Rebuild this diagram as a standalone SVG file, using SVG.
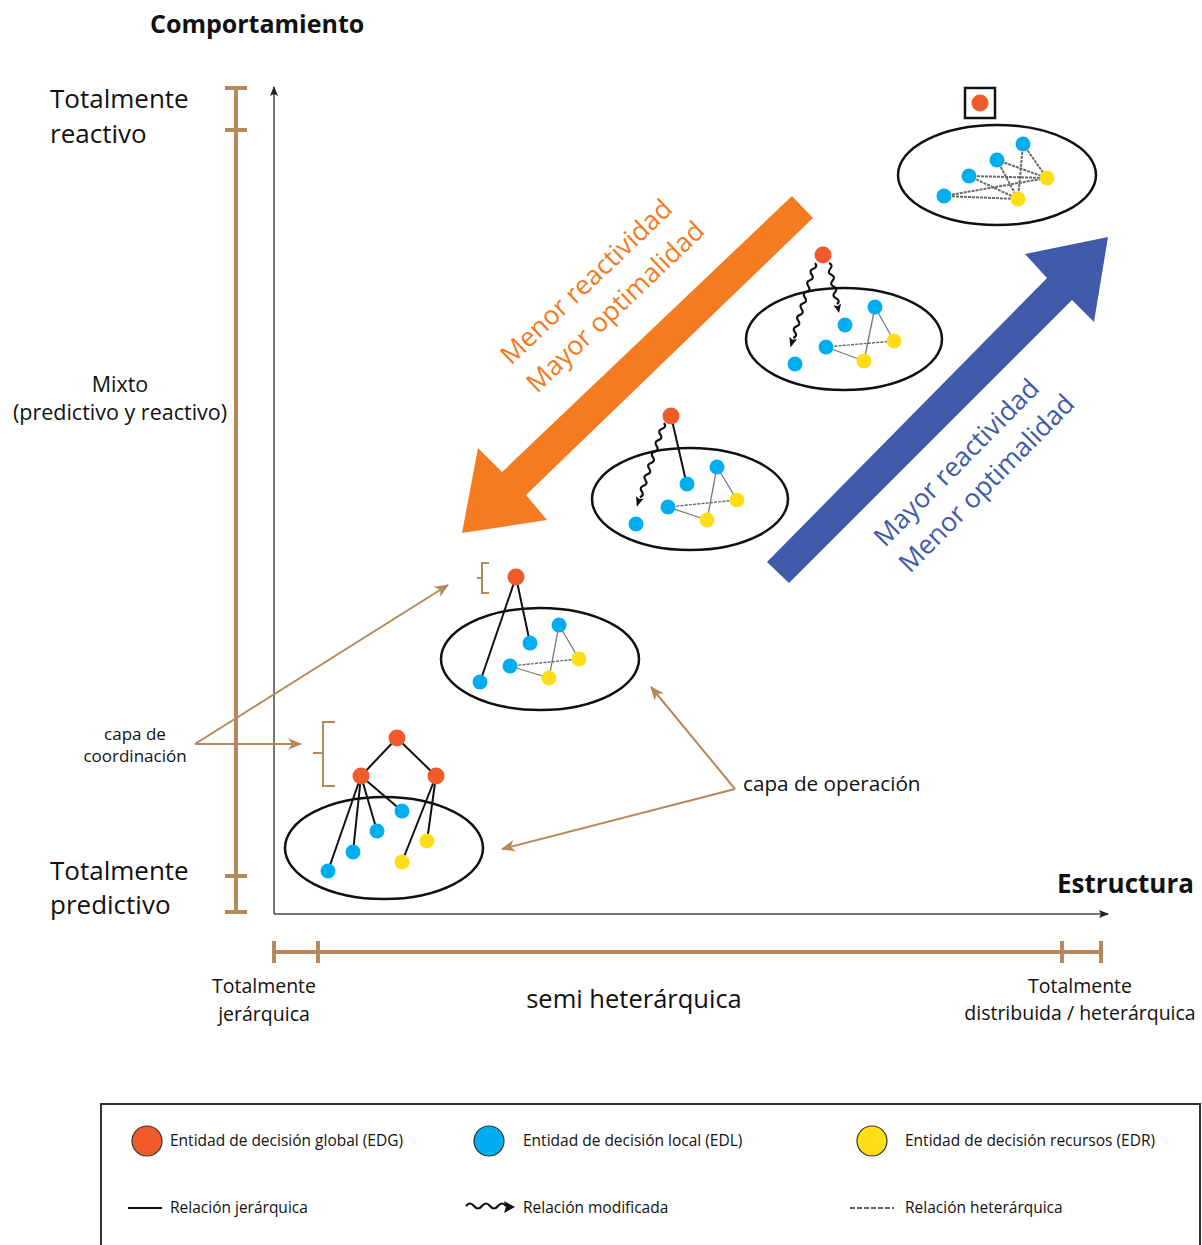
<svg xmlns="http://www.w3.org/2000/svg" width="1202" height="1245" viewBox="0 0 1202 1245">
  <style>
    .t{font-family:"Open Sans","Noto Sans","DejaVu Sans",sans-serif;fill:#111}
    .b{font-weight:bold}
    .org{fill:#f15a2b}
    .blu{fill:#00aeef}
    .yel{fill:#ffde17}
    .ell{fill:none;stroke:#111;stroke-width:2.5}
    .hier{stroke:#111;stroke-width:2;fill:none}
    .thin{stroke:#777;stroke-width:1.3;fill:none}
    .het{stroke:#666;stroke-width:1.4;stroke-dasharray:3 1.2;fill:none}
    .het2{stroke:#6a6a6a;stroke-width:2;stroke-dasharray:3 1;fill:none}
    .wave{stroke:#111;stroke-width:2.2;fill:none}
    .scale{stroke:#b5895b;stroke-width:4;fill:none}
    .bline{stroke:#b5895b;stroke-width:2;fill:none}
    .axis{stroke:#444;stroke-width:1.5;fill:none}
  </style>
  <defs>
    <marker id="axHead" viewBox="0 0 10 8" refX="9" refY="4" markerWidth="10" markerHeight="8" markerUnits="userSpaceOnUse" orient="auto">
      <path d="M0,0 L10,4 L0,8 L2,4 z" fill="#222"/>
    </marker>
    <marker id="brHead" viewBox="0 0 14 12" refX="13" refY="6" markerWidth="14" markerHeight="12" markerUnits="userSpaceOnUse" orient="auto">
      <path d="M0,0 L14,6 L0,12 L4,6 z" fill="#b5895b"/>
    </marker>
  </defs>

  <rect width="1202" height="1245" fill="#fff"/>

  <!-- axes -->
  <g id="axes">
    <line class="axis" x1="274" y1="914" x2="274" y2="87" marker-end="url(#axHead)"/>
    <line class="axis" x1="274" y1="914" x2="1108" y2="914" marker-end="url(#axHead)"/>
  </g>

  <!-- behaviour scale (left) -->
  <g id="scale-behaviour">
    <line class="scale" x1="236" y1="88" x2="236" y2="912"/>
    <line class="scale" x1="225" y1="88" x2="247" y2="88"/>
    <line class="scale" x1="225" y1="130" x2="247" y2="130"/>
    <line class="scale" x1="225" y1="876" x2="247" y2="876"/>
    <line class="scale" x1="225" y1="912" x2="247" y2="912"/>
  </g>

  <!-- structure scale (bottom) -->
  <g id="scale-structure">
    <line class="scale" x1="274" y1="952" x2="1101" y2="952"/>
    <line class="scale" x1="274" y1="941" x2="274" y2="963"/>
    <line class="scale" x1="318" y1="941" x2="318" y2="963"/>
    <line class="scale" x1="1062" y1="941" x2="1062" y2="963"/>
    <line class="scale" x1="1101" y1="941" x2="1101" y2="963"/>
  </g>

  <!-- axis labels -->
  <g id="labels">
    <text class="t b" x="150" y="33" font-size="25">Comportamiento</text>
    <text class="t" x="50" y="108" font-size="26">Totalmente</text>
    <text class="t" x="50" y="143" font-size="26">reactivo</text>
    <text class="t" x="120" y="392" font-size="21.5" text-anchor="middle">Mixto</text>
    <text class="t" x="120" y="420" font-size="21.5" text-anchor="middle">(predictivo y reactivo)</text>
    <text class="t" x="50" y="880" font-size="26">Totalmente</text>
    <text class="t" x="50" y="914" font-size="26">predictivo</text>
    <text class="t" x="135" y="740" font-size="17" text-anchor="middle">capa de</text>
    <text class="t" x="135" y="762" font-size="17" text-anchor="middle">coordinación</text>
    <text class="t" x="743" y="791" font-size="20.7">capa de operación</text>
    <text class="t b" x="1057" y="893" font-size="26">Estructura</text>
    <text class="t" x="264" y="993" font-size="19.5" text-anchor="middle">Totalmente</text>
    <text class="t" x="264" y="1021" font-size="19.5" text-anchor="middle">jerárquica</text>
    <text class="t" x="634" y="1008" font-size="25.5" text-anchor="middle">semi heterárquica</text>
    <text class="t" x="1080" y="993" font-size="19.5" text-anchor="middle">Totalmente</text>
    <text class="t" x="1080" y="1020" font-size="19.5" text-anchor="middle">distribuida / heterárquica</text>
  </g>

  <!-- trend arrows -->
  <g id="trend-down">
    <polygon points="792,196 813,218 526,495 547,520 462,533 478,448 502,472" fill="#f47b20"/>
    <text class="t" transform="translate(511,366) rotate(-43.6)" font-size="26.5" style="fill:#f47b20">Menor reactividad</text>
    <text class="t" transform="translate(537,394) rotate(-43.6)" font-size="26.5" style="fill:#f47b20">Mayor optimalidad</text>
  </g>
  <g id="trend-up">
    <polygon points="1108,237 1094,322 1072,300 789,583 767,562 1047,278 1025,254" fill="#3f5ba9"/>
    <text class="t" transform="translate(885,548) rotate(-45.4)" font-size="26.5" style="fill:#3f5ba9">Mayor reactividad</text>
    <text class="t" transform="translate(910,574) rotate(-45.4)" font-size="26.5" style="fill:#3f5ba9">Menor optimalidad</text>
  </g>

  <!-- connectors: layer callouts -->
  <g id="connectors">
    <line class="bline" x1="195" y1="744" x2="448" y2="585" marker-end="url(#brHead)"/>
    <line class="bline" x1="195" y1="744" x2="301" y2="744" marker-end="url(#brHead)"/>
    <line class="bline" x1="735" y1="789" x2="651" y2="687" marker-end="url(#brHead)"/>
    <line class="bline" x1="735" y1="789" x2="502" y2="849" marker-end="url(#brHead)"/>
  </g>

  <!-- fully distributed -->
  <g id="cluster-distribuida">
    <rect x="965" y="88" width="30" height="30" fill="none" stroke="#111" stroke-width="2.5"/>
    <circle class="org" cx="980" cy="103" r="8.5"/>
    <ellipse class="ell" cx="997" cy="175" rx="99" ry="50"/>
    <g>
      <line class="het2" x1="1023" y1="144" x2="1047" y2="178"/>
      <line class="het2" x1="1023" y1="144" x2="1018" y2="199"/>
      <line class="het2" x1="997" y1="160" x2="1047" y2="178"/>
      <line class="het2" x1="997" y1="160" x2="1018" y2="199"/>
      <line class="het2" x1="969" y1="176" x2="1047" y2="178"/>
      <line class="het2" x1="969" y1="176" x2="1018" y2="199"/>
      <line class="het2" x1="944" y1="196" x2="1047" y2="178"/>
      <line class="het2" x1="944" y1="196" x2="1018" y2="199"/>
    </g>
    <circle class="blu" cx="1023" cy="144" r="7.5"/>
    <circle class="blu" cx="997" cy="160" r="7.5"/>
    <circle class="blu" cx="969" cy="176" r="7.5"/>
    <circle class="blu" cx="944" cy="196" r="7.5"/>
    <circle class="yel" cx="1047" cy="178" r="7.5"/>
    <circle class="yel" cx="1018" cy="199" r="7.5"/>
  </g>

  <!-- two modified relations -->
  <g id="cluster-modificada-2">
    <ellipse class="ell" cx="844" cy="339" rx="98" ry="51"/>
    <line class="thin" x1="875" y1="307" x2="894" y2="341"/>
    <line class="thin" x1="875" y1="307" x2="864" y2="361"/>
    <line class="het" x1="826" y1="347" x2="894" y2="341"/>
    <line class="thin" x1="826" y1="347" x2="864" y2="361"/>
    <g transform="translate(815,263) rotate(106.2)">
      <path class="wave" d="M0,0 q3,-4 6,0 t6,0 t6,0 t6,0 t6,0 t6,0 t6,0 t6,0 t6,0 t6,0 t6,0 t6,0 t6,0"/>
      <path d="M78,-4 L88,0 L78,4 L80,0 z" fill="#111"/>
    </g>
    <g transform="translate(829,263) rotate(78.7)">
      <path class="wave" d="M0,0 q3,-4 6,0 t6,0 t6,0 t6,0 t6,0 t6,0 t6,0"/>
      <path d="M42,-4 L51,0 L42,4 L44,0 z" fill="#111"/>
    </g>
    <circle class="org" cx="823" cy="255" r="8.5"/>
    <circle class="blu" cx="875" cy="307" r="7.5"/>
    <circle class="blu" cx="845" cy="325" r="7.5"/>
    <circle class="blu" cx="826" cy="347" r="7.5"/>
    <circle class="blu" cx="795" cy="364" r="7.5"/>
    <circle class="yel" cx="894" cy="341" r="7.5"/>
    <circle class="yel" cx="864" cy="361" r="7.5"/>
  </g>

  <!-- one modified relation -->
  <g id="cluster-modificada-1">
    <ellipse class="ell" cx="690" cy="499" rx="98" ry="51"/>
    <line class="thin" x1="717" y1="467" x2="737" y2="500"/>
    <line class="thin" x1="717" y1="467" x2="707" y2="520"/>
    <line class="het" x1="668" y1="507" x2="737" y2="500"/>
    <line class="thin" x1="668" y1="507" x2="707" y2="520"/>
    <line class="hier" x1="671" y1="416" x2="686" y2="481"/>
    <g transform="translate(664,423) rotate(108)">
      <path class="wave" d="M0,0 q3,-4 6,0 t6,0 t6,0 t6,0 t6,0 t6,0 t6,0 t6,0 t6,0 t6,0 t6,0 t6,0 t6,0"/>
      <path d="M78,-4 L88,0 L78,4 L80,0 z" fill="#111"/>
    </g>
    <circle class="org" cx="671" cy="416" r="8.5"/>
    <circle class="blu" cx="717" cy="467" r="7.5"/>
    <circle class="blu" cx="687" cy="484" r="7.5"/>
    <circle class="blu" cx="668" cy="507" r="7.5"/>
    <circle class="blu" cx="636" cy="524" r="7.5"/>
    <circle class="yel" cx="737" cy="500" r="7.5"/>
    <circle class="yel" cx="707" cy="520" r="7.5"/>
  </g>

  <!-- single coordinator -->
  <g id="cluster-semi">
    <path class="bline" d="M489,563 H482 V593 H489 M482,578 H477" stroke-width="2.5"/>
    <ellipse class="ell" cx="540" cy="659" rx="99" ry="51"/>
    <line class="thin" x1="559" y1="625" x2="579" y2="659"/>
    <line class="thin" x1="559" y1="625" x2="549" y2="678"/>
    <line class="het" x1="510" y1="666" x2="579" y2="659"/>
    <line class="thin" x1="510" y1="666" x2="549" y2="678"/>
    <line class="hier" x1="516" y1="577" x2="530" y2="643"/>
    <line class="hier" x1="516" y1="577" x2="480" y2="682"/>
    <circle class="org" cx="516" cy="577" r="8.5"/>
    <circle class="blu" cx="559" cy="625" r="7.5"/>
    <circle class="blu" cx="530" cy="643" r="7.5"/>
    <circle class="blu" cx="510" cy="666" r="7.5"/>
    <circle class="blu" cx="480" cy="682" r="7.5"/>
    <circle class="yel" cx="579" cy="659" r="7.5"/>
    <circle class="yel" cx="549" cy="678" r="7.5"/>
  </g>

  <!-- fully hierarchical -->
  <g id="cluster-jerarquica">
    <path class="bline" d="M335,722 H323 V786 H335 M323,753 H313" stroke-width="2.5"/>
    <ellipse class="ell" cx="384" cy="848" rx="99" ry="51"/>
    <line class="hier" x1="397" y1="738" x2="361" y2="776"/>
    <line class="hier" x1="397" y1="738" x2="436" y2="776"/>
    <line class="hier" x1="361" y1="776" x2="328" y2="871"/>
    <line class="hier" x1="361" y1="776" x2="353" y2="852"/>
    <line class="hier" x1="361" y1="776" x2="377" y2="831"/>
    <line class="hier" x1="361" y1="776" x2="402" y2="811"/>
    <line class="hier" x1="436" y1="776" x2="402" y2="862"/>
    <line class="hier" x1="436" y1="776" x2="427" y2="841"/>
    <circle class="org" cx="397" cy="738" r="8.5"/>
    <circle class="org" cx="361" cy="776" r="8.5"/>
    <circle class="org" cx="436" cy="776" r="8.5"/>
    <circle class="blu" cx="402" cy="811" r="7.5"/>
    <circle class="blu" cx="377" cy="831" r="7.5"/>
    <circle class="blu" cx="353" cy="852" r="7.5"/>
    <circle class="blu" cx="328" cy="871" r="7.5"/>
    <circle class="yel" cx="427" cy="841" r="7.5"/>
    <circle class="yel" cx="402" cy="862" r="7.5"/>
  </g>

  <!-- legend -->
  <g id="legend">
    <rect x="101" y="1104" width="1099" height="160" fill="none" stroke="#333" stroke-width="2"/>
    <circle class="org" cx="147" cy="1141" r="15" stroke="#333" stroke-width="1.2"/>
    <text class="t" x="170" y="1146" font-size="15.5">Entidad de decisión global (EDG)</text>
    <circle class="blu" cx="489" cy="1141" r="15" stroke="#333" stroke-width="1.2"/>
    <text class="t" x="523" y="1146" font-size="15.5">Entidad de decisión local (EDL)</text>
    <circle class="yel" cx="872" cy="1141" r="15" stroke="#333" stroke-width="1.2"/>
    <text class="t" x="905" y="1146" font-size="15.5">Entidad de decisión recursos (EDR)</text>
    <line x1="128" y1="1208" x2="162" y2="1208" stroke="#111" stroke-width="2"/>
    <text class="t" x="170" y="1213" font-size="15.5">Relación jerárquica</text>
    <path class="wave" d="M466,1206 q4,-5 8,0 t8,0 t8,0 t8,0 t8,0" stroke-width="2.6"/>
    <path d="M504,1201 L515,1207 L504,1213 L506,1207 z" fill="#111"/>
    <text class="t" x="523" y="1213" font-size="15.5">Relación modificada</text>
    <line x1="850" y1="1208" x2="894" y2="1208" stroke="#333" stroke-width="1.5" stroke-dasharray="5 2"/>
    <text class="t" x="905" y="1213" font-size="15.5">Relación heterárquica</text>
  </g>
</svg>
